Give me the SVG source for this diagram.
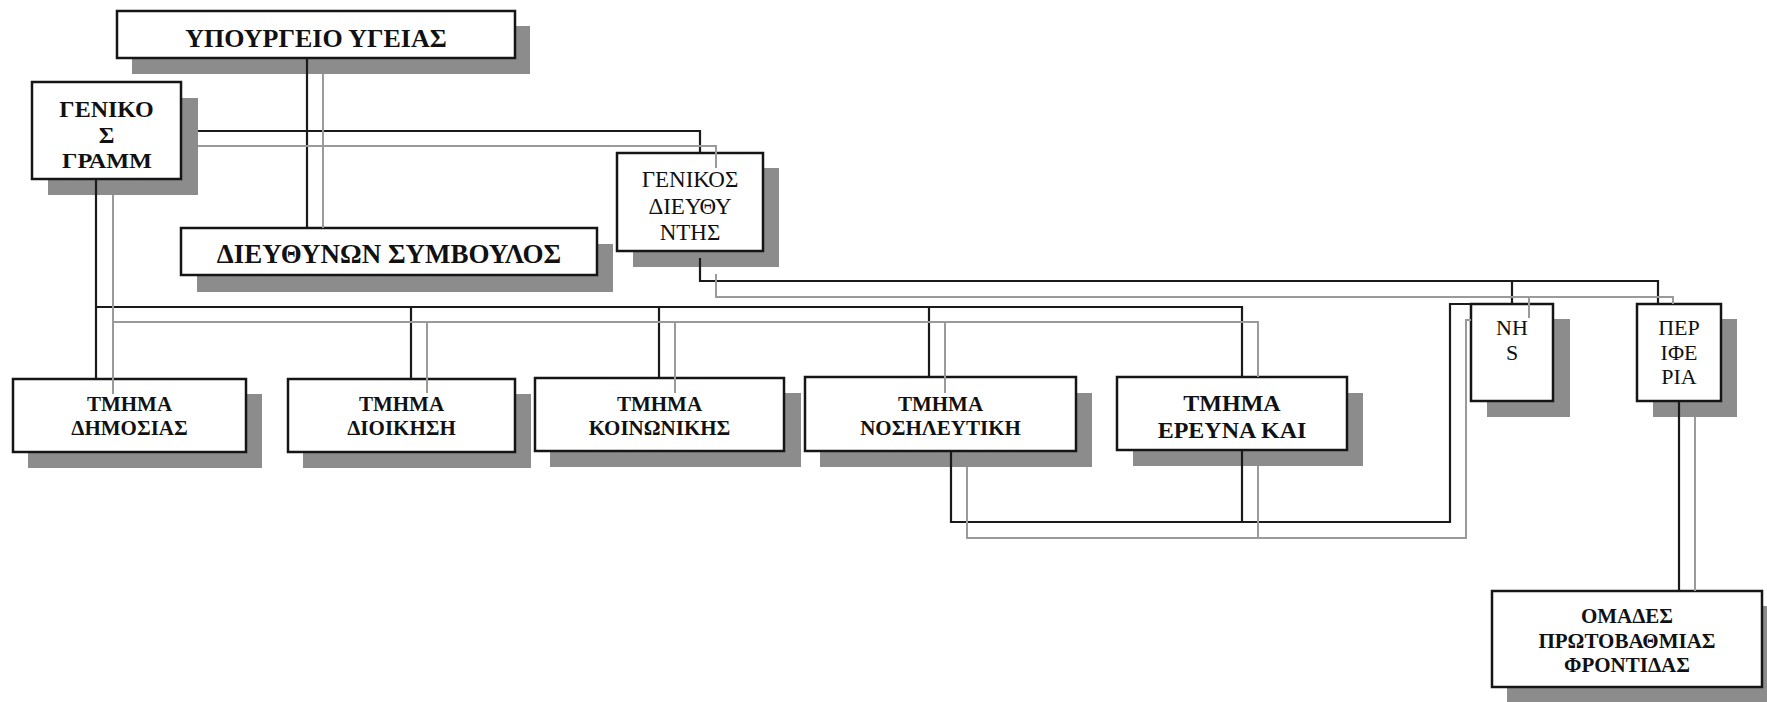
<svg xmlns="http://www.w3.org/2000/svg" width="1767" height="702" viewBox="0 0 1767 702">
<style>
.bg{fill:#ffffff}
.sh{fill:#8c8c8c}
.bx{fill:#ffffff;stroke:#151515;stroke-width:2.5}
.k{fill:none;stroke:#1a1a1a;stroke-width:2.2}
.g{fill:none;stroke:#9a9a9a;stroke-width:2}
.tb{font-family:"Liberation Serif","Times New Roman",serif;font-weight:bold;text-anchor:middle;fill:#111}
.tr{font-family:"Liberation Serif","Times New Roman",serif;text-anchor:middle;fill:#111}
</style>
<rect class="bg" x="0" y="0" width="1767" height="702"/>

<g id="ministry">
<rect class="sh" x="132" y="26" width="398" height="48"/>
<rect class="bx" x="117" y="11" width="398" height="47"/>
<text class="tb" x="316" y="47" font-size="26">ΥΠΟΥΡΓΕΙΟ ΥΓΕΙΑΣ</text>
</g>

<g id="gen-secretary">
<rect class="sh" x="48" y="98" width="150" height="97"/>
<rect class="bx" x="32" y="82" width="149" height="97"/>
<text class="tb" x="106.5" y="117" font-size="24">ΓΕΝΙΚΟ</text>
<text class="tb" x="106.5" y="143" font-size="24">Σ</text>
<text class="tb" x="107" y="168" font-size="21" textLength="90" lengthAdjust="spacingAndGlyphs">ΓΡΑΜΜ</text>
</g>

<g id="ceo">
<rect class="sh" x="197" y="244" width="416" height="48"/>
<rect class="bx" x="181" y="228" width="416" height="47"/>
<text class="tb" x="389" y="263" font-size="27">ΔΙΕΥΘΥΝΩΝ ΣΥΜΒΟΥΛΟΣ</text>
</g>

<g id="gen-director">
<rect class="sh" x="633" y="168" width="146" height="99"/>
<rect class="bx" x="617" y="153" width="146" height="98"/>
<text class="tr" x="690" y="187" font-size="23">ΓΕΝΙΚΟΣ</text>
<text class="tr" x="690" y="214" font-size="23">ΔΙΕΥΘΥ</text>
<text class="tr" x="690" y="240" font-size="23">ΝΤΗΣ</text>
</g>

<g id="dept-public">
<rect class="sh" x="28" y="394" width="234" height="74"/>
<rect class="bx" x="13" y="379" width="233" height="73"/>
<text class="tb" x="129.5" y="411" font-size="21">ΤΜΗΜΑ</text>
<text class="tb" x="129.5" y="435" font-size="21">ΔΗΜΟΣΙΑΣ</text>
</g>

<g id="dept-admin">
<rect class="sh" x="303" y="394" width="228" height="74"/>
<rect class="bx" x="288" y="379" width="227" height="73"/>
<text class="tb" x="401.5" y="411" font-size="21">ΤΜΗΜΑ</text>
<text class="tb" x="401.5" y="435" font-size="21">ΔΙΟΙΚΗΣΗ</text>
</g>

<g id="dept-social">
<rect class="sh" x="550" y="393" width="251" height="74"/>
<rect class="bx" x="535" y="378" width="249" height="73"/>
<text class="tb" x="659.5" y="411" font-size="21">ΤΜΗΜΑ</text>
<text class="tb" x="659.5" y="435" font-size="21">ΚΟΙΝΩΝΙΚΗΣ</text>
</g>

<g id="dept-nursing">
<rect class="sh" x="820" y="393" width="272" height="74"/>
<rect class="bx" x="805" y="377" width="271" height="74"/>
<text class="tb" x="940.5" y="411" font-size="21">ΤΜΗΜΑ</text>
<text class="tb" x="940.5" y="435" font-size="21">ΝΟΣΗΛΕΥΤΙΚΗ</text>
</g>

<g id="dept-research">
<rect class="sh" x="1133" y="393" width="230" height="73"/>
<rect class="bx" x="1117" y="377" width="230" height="73"/>
<text class="tb" x="1232" y="411" font-size="24">ΤΜΗΜΑ</text>
<text class="tb" x="1232" y="438" font-size="24">ΕΡΕΥΝΑ ΚΑΙ</text>
</g>

<g id="nhs">
<rect class="sh" x="1487" y="319" width="83" height="98"/>
<rect class="bx" x="1471" y="304" width="82" height="97"/>
<text class="tr" x="1512" y="335" font-size="22">NH</text>
<text class="tr" x="1512" y="360" font-size="22">S</text>
</g>

<g id="periphery">
<rect class="sh" x="1653" y="319" width="84" height="98"/>
<rect class="bx" x="1637" y="304" width="84" height="97"/>
<text class="tr" x="1679" y="335" font-size="22">ΠΕΡ</text>
<text class="tr" x="1679" y="360" font-size="22">ΙΦΕ</text>
<text class="tr" x="1679" y="384" font-size="22">ΡΙΑ</text>
</g>

<g id="primary-care">
<rect class="sh" x="1507" y="606" width="272" height="100"/>
<rect class="bx" x="1492" y="591" width="270" height="96"/>
<text class="tb" x="1627" y="623" font-size="21">ΟΜΑΔΕΣ</text>
<text class="tb" x="1627" y="648" font-size="21">ΠΡΩΤΟΒΑΘΜΙΑΣ</text>
<text class="tb" x="1627" y="672" font-size="21">ΦΡΟΝΤΙΔΑΣ</text>
</g>

<g id="connectors">
<path class="k" d="M307,58 V228"/>
<path class="k" d="M198,131 H700 V153"/>
<path class="k" d="M96,179 V379"/>
<path class="k" d="M96,307 H1242 V377"/>
<path class="k" d="M411,307 V379 M659,307 V378 M929,307 V377"/>
<path class="k" d="M700,258 V281 H1658 V304"/>
<path class="k" d="M1512,281 V304"/>
<path class="k" d="M951,451 V522 H1450 V304 H1471"/>
<path class="k" d="M1242,450 V522"/>
<path class="k" d="M1679,401 V591"/>
<path class="g" d="M323,74 V228"/>
<path class="g" d="M198,146 H716 V168"/>
<path class="g" d="M113,195 V394"/>
<path class="g" d="M113,322 H1258 V377"/>
<path class="g" d="M427,322 V393 M675,322 V393 M945,322 V393"/>
<path class="g" d="M716,274 V297 H1673 V304"/>
<path class="g" d="M1529,297 V318"/>
<path class="g" d="M967,467 V538 H1466 V320 H1471"/>
<path class="g" d="M1258,466 V538"/>
<path class="g" d="M1695,417 V591"/>
</g>
</svg>
